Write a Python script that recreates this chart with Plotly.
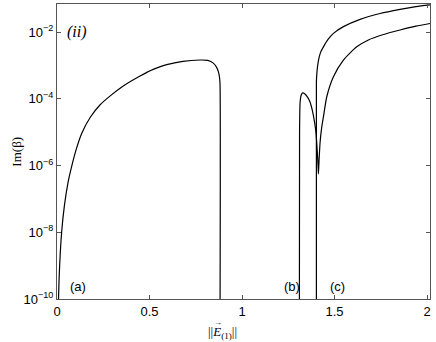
import plotly.graph_objects as go

# --- data (x = ||E_(1)||, y = Im(beta)) ---
a_x = [0.006, 0.012, 0.025, 0.04, 0.06, 0.079, 0.105, 0.134, 0.18, 0.232, 0.286,
       0.36, 0.449, 0.52, 0.593, 0.68, 0.773, 0.815, 0.845, 0.862, 0.872, 0.878,
       0.881, 0.881]
a_y = [3e-11, 5e-10, 1e-8, 6.3e-8, 3.2e-7, 9.3e-7, 3.2e-6, 9.3e-6, 2.8e-5, 6.5e-5,
       1.2e-4, 2.45e-4, 4.8e-4, 7.6e-4, 1.05e-3, 1.32e-3, 1.45e-3, 1.41e-3, 1.17e-3,
       8.9e-4, 6.5e-4, 4.5e-4, 2.9e-4, 1e-11]

b_x = [1.310, 1.311, 1.314, 1.320, 1.328, 1.340, 1.355, 1.368, 1.380, 1.392, 1.400,
       1.407, 1.411, 1.413, 1.416, 1.422, 1.430, 1.440, 1.458, 1.494, 1.548, 1.620,
       1.683, 1.760, 1.854, 1.940, 2.016]
b_y = [1e-11, 1e-5, 7.9e-5, 1.3e-4, 1.5e-4, 1.4e-4, 1.1e-4, 7.9e-5, 4.5e-5, 2e-5,
       9.3e-6, 2.5e-6, 1e-6, 5.6e-7, 1.3e-6, 5e-6, 1.3e-5, 2.9e-5, 1.15e-4, 4.6e-4,
       1.45e-3, 3.6e-3, 5.8e-3, 8.3e-3, 1.15e-2, 1.5e-2, 1.8e-2]

c_x = [1.402, 1.402, 1.405, 1.413, 1.425, 1.440, 1.465, 1.494, 1.548, 1.638, 1.746,
       1.854, 1.940, 2.016]
c_y = [1e-11, 3.2e-4, 6.3e-4, 1.4e-3, 2.5e-3, 3.6e-3, 6e-3, 9.1e-3, 1.45e-2,
       2.4e-2, 3.6e-2, 4.8e-2, 5.8e-2, 6.5e-2]

y_ticks = [1e-10, 1e-8, 1e-6, 1e-4, 1e-2]
y_ticktext = ["10<sup>−10</sup>", "10<sup>−8</sup>", "10<sup>−6</sup>",
              "10<sup>−4</sup>", "10<sup>−2</sup>"]
x_ticks = [0, 0.5, 1, 1.5, 2]
x_ticktext = ["0", "0.5", "1", "1.5", "2"]

fig = go.Figure()
for xs, ys in [(a_x, a_y), (b_x, b_y), (c_x, c_y)]:
    fig.add_trace(go.Scatter(x=xs, y=ys, mode="lines",
                             line=dict(color="black", width=1.2, shape="spline", smoothing=0.6)))

axis_common = dict(showline=True, linecolor="#555555", linewidth=1, mirror="ticks",
                   ticks="inside", ticklen=4, tickcolor="#555555", showgrid=False,
                   zeroline=False, tickfont=dict(family="Liberation Sans", size=13, color="black"))

fig.update_xaxes(range=[0, 2.016], tickvals=x_ticks, ticktext=x_ticktext, **axis_common)
fig.update_yaxes(type="log", range=[-10, -1.16], tickvals=y_ticks, ticktext=y_ticktext,
                 **axis_common)

labels = [
    ("<i>(ii)</i>", 0.021, 0.906, "Liberation Serif", 16),
    ("(a)", 0.030, 0.041, "Liberation Sans", 13),
    ("(b)", 0.602, 0.041, "Liberation Sans", 13),
    ("(c)", 0.727, 0.041, "Liberation Sans", 13),
]
for text, px, py, fam, sz in labels:
    fig.add_annotation(text=text, x=px, y=py, xref="paper", yref="paper",
                       showarrow=False, xanchor="left", yanchor="middle",
                       font=dict(family=fam, size=sz, color="black"))

# x-axis title: ||E_(1)|| with a small vector arrow over the E
fig.add_annotation(text="||<i>E</i><sub>(1)</sub>||", x=0.445, y=-0.115, xref="paper",
                   yref="paper", showarrow=False, yanchor="middle",
                   font=dict(family="Liberation Serif", size=13, color="black"))
fig.add_annotation(text="→", x=0.431, y=-0.078, xref="paper",
                   yref="paper", showarrow=False, yanchor="middle",
                   font=dict(family="Liberation Serif", size=8, color="black"))
fig.add_annotation(text="Im(β)", x=-0.135, y=0.5, xref="paper", yref="paper",
                   showarrow=False, textangle=-90,
                   font=dict(family="Liberation Serif", size=13, color="black"))

fig.update_layout(width=436, height=342, showlegend=False,
                  margin=dict(l=57, r=6, t=4, b=43),
                  plot_bgcolor="white", paper_bgcolor="white")

fig.write_html("out.html", config={"displayModeBar": False},
               post_script="document.body.style.margin='0';")
